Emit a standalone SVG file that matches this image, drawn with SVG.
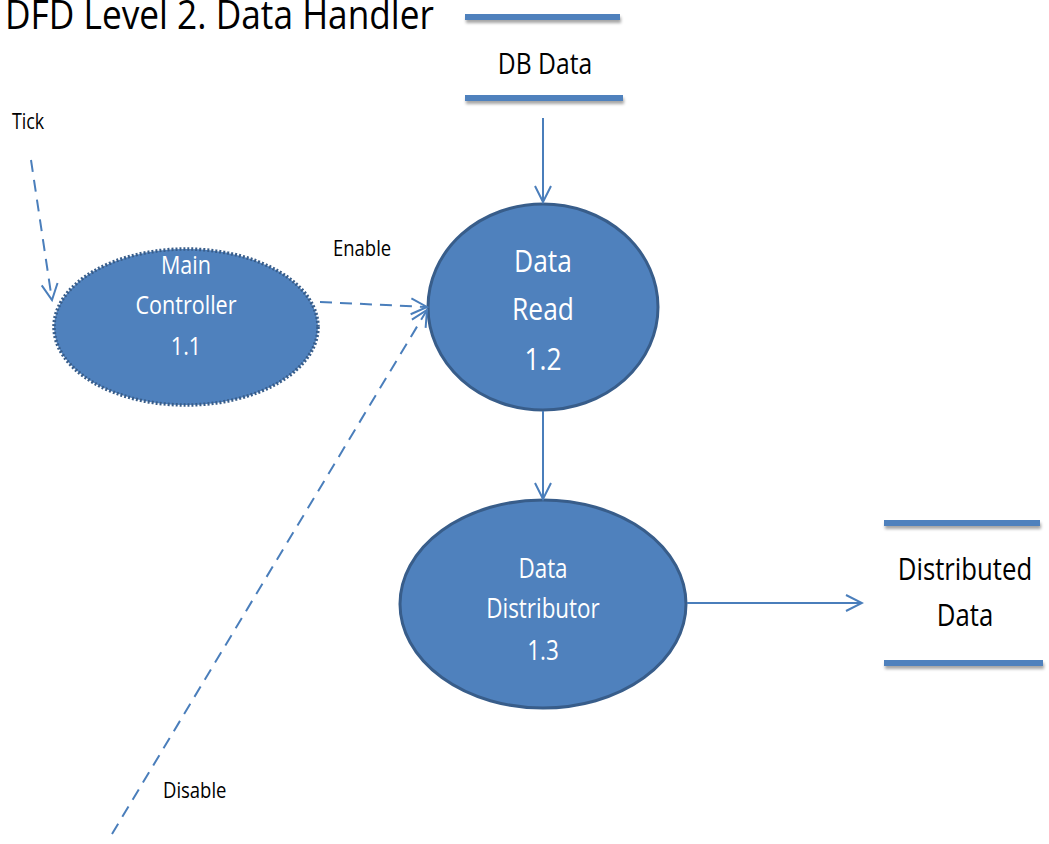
<svg xmlns="http://www.w3.org/2000/svg" width="1049" height="844" viewBox="0 0 1049 844">
<style>
.lbl{font-family:"Open Sans","Noto Sans",sans-serif;fill:#000}
.wt{font-family:"Open Sans","Noto Sans",sans-serif;fill:#fff;text-anchor:middle}
.proc{fill:#4f81bd;stroke:#385d8a}
.flow{fill:none;stroke:#4a7ebb;stroke-width:2}
.dash{stroke-dasharray:12 8}
.store{fill:#4f81bd;filter:url(#sh)}
</style>
<defs>
<marker id="ah" viewBox="0 0 20 20" refX="18" refY="10" markerWidth="20" markerHeight="20" markerUnits="userSpaceOnUse" orient="auto">
<path d="M2,2 L18,10 L2,18" fill="none" stroke="#4a7ebb" stroke-width="2"/>
</marker>
<filter id="sh" filterUnits="userSpaceOnUse" x="0" y="0" width="1049" height="844">
<feDropShadow dx="1" dy="3" stdDeviation="1.5" flood-color="#000" flood-opacity="0.35"/>
</filter>
</defs>
<text class="lbl" x="5" y="29" font-size="41" transform="translate(5 0) scale(0.86 1) translate(-5 0)">DFD Level 2. Data Handler</text>
<g id="db-data">
<rect class="store" x="465" y="14" width="155" height="6"/>
<rect class="store" x="465" y="95" width="158" height="6"/>
<text class="lbl" x="545" y="74" font-size="29" text-anchor="middle" transform="translate(545 0) scale(0.85 1) translate(-545 0)">DB Data</text>
</g>
<g id="main-controller">
<ellipse class="proc" cx="186" cy="327" rx="132" ry="78" stroke-width="3.5" stroke-dasharray="2 2"/>
<g font-size="26" transform="translate(186 0) scale(0.83 1) translate(-186 0)">
<text class="wt" x="186" y="274">Main</text>
<text class="wt" x="186" y="314">Controller</text>
<text class="wt" x="186" y="355">1.1</text>
</g>
</g>
<g id="data-read">
<ellipse class="proc" cx="543" cy="307" rx="115" ry="103" stroke-width="3"/>
<g font-size="31" transform="translate(543 0) scale(0.85 1) translate(-543 0)">
<text class="wt" x="543" y="272">Data</text>
<text class="wt" x="543" y="320">Read</text>
<text class="wt" x="543" y="370">1.2</text>
</g>
</g>
<g id="data-distributor">
<ellipse class="proc" cx="543" cy="604" rx="143" ry="104" stroke-width="3"/>
<g font-size="27" transform="translate(543 0) scale(0.83 1) translate(-543 0)">
<text class="wt" x="543" y="578">Data</text>
<text class="wt" x="543" y="618">Distributor</text>
<text class="wt" x="543" y="660">1.3</text>
</g>
</g>
<g id="distributed-data">
<rect class="store" x="884" y="520" width="156" height="6"/>
<rect class="store" x="884" y="660" width="159" height="6"/>
<g font-size="31" transform="translate(965 0) scale(0.83 1) translate(-965 0)">
<text class="lbl" x="965" y="580" text-anchor="middle">Distributed</text>
<text class="lbl" x="965" y="626" text-anchor="middle">Data</text>
</g>
</g>
<g id="connectors">
<line class="flow dash" x1="31" y1="160" x2="52" y2="300" marker-end="url(#ah)"/>
<line class="flow dash" x1="320" y1="302" x2="427" y2="307" stroke-width="3" marker-end="url(#ah)"/>
<line class="flow dash" x1="112" y1="834" x2="427" y2="310" marker-end="url(#ah)"/>
<line class="flow" x1="543" y1="118" x2="543" y2="202" marker-end="url(#ah)"/>
<line class="flow" x1="543" y1="411" x2="543" y2="499" marker-end="url(#ah)"/>
<line class="flow" x1="687" y1="603" x2="862" y2="603" marker-end="url(#ah)"/>
</g>
<g font-size="21">
<text class="lbl" x="12" y="129" transform="translate(12 0) scale(0.85 1) translate(-12 0)">Tick</text>
<text class="lbl" x="333" y="256" transform="translate(333 0) scale(0.88 1) translate(-333 0)">Enable</text>
<text class="lbl" x="163" y="798" transform="translate(163 0) scale(0.88 1) translate(-163 0)">Disable</text>
</g>
</svg>
